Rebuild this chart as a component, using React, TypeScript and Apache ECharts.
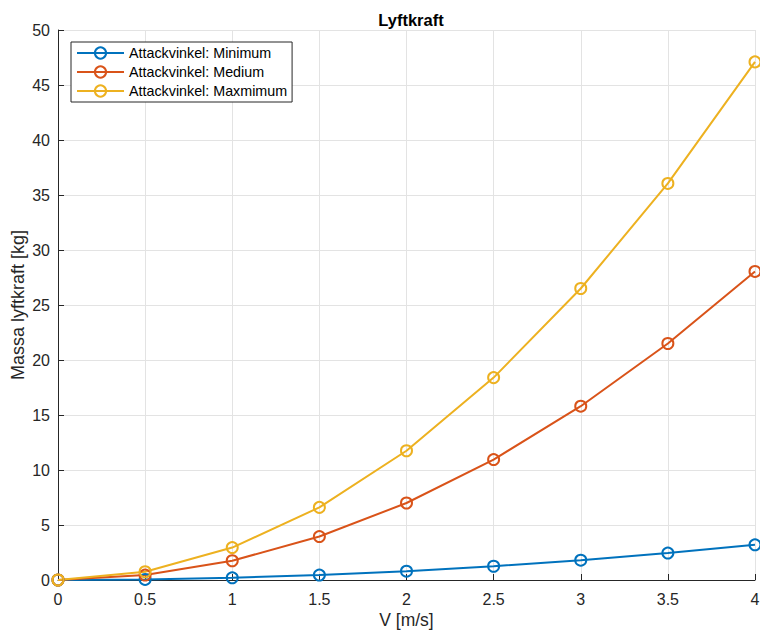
import React, { useEffect, useRef } from "react";
import * as echarts from "echarts";

const xValues = [0, 0.5, 1, 1.5, 2, 2.5, 3, 3.5, 4];
const minimum = [0, 0.05, 0.2, 0.45, 0.8, 1.25, 1.8, 2.45, 3.2];
const medium = [0, 0.45, 1.75, 3.95, 7.0, 10.95, 15.8, 21.5, 28.05];
const maximum = [0, 0.75, 2.95, 6.6, 11.75, 18.4, 26.5, 36.05, 47.1];
const seriesNames = ["Attackvinkel: Minimum", "Attackvinkel: Medium", "Attackvinkel: Maxmimum"];
const colors = ["#0072BD", "#D95319", "#EDB120"];

const FONT = "'Liberation Sans', Arial, Helvetica, sans-serif";

export default function App() {
  const ref = useRef<HTMLDivElement>(null);
  useEffect(() => {
    if (!ref.current) return;
    const chart = echarts.init(ref.current, null, { renderer: "svg" });
    const datasets = [minimum, medium, maximum];
    chart.setOption({
      animation: false,
      backgroundColor: "#ffffff",
      title: {
        text: "Lyftkraft",
        left: 406,
        top: 6,
        textAlign: "center",
        textStyle: { fontFamily: FONT, fontSize: 16.5, fontWeight: "bold", color: "#000" },
      },
      legend: {
        left: 71,
        top: 42,
        orient: "vertical",
        itemGap: 5,
        itemWidth: 47,
        itemHeight: 14,
        padding: [4, 5, 4, 5],
        borderColor: "#262626",
        borderWidth: 1,
        borderRadius: 0,
        backgroundColor: "#fff",
        textStyle: { fontFamily: FONT, fontSize: 14.3, color: "#000" },
        data: seriesNames,
      },
      grid: { left: 58, right: 5, top: 30, bottom: 51, containLabel: false, outerBoundsMode: "none" },
      xAxis: {
        type: "value",
        min: 0,
        max: 4,
        interval: 0.5,
        name: "V [m/s]",
        nameLocation: "middle",
        nameGap: 31,
        nameMoveOverlap: false,
        nameTextStyle: { fontFamily: FONT, fontSize: 17.5, color: "#262626" },
        axisLine: { show: true, lineStyle: { color: "#262626", width: 1 } },
        axisTick: { show: true, inside: true, length: 6, lineStyle: { color: "#262626" } },
        axisLabel: { fontFamily: FONT, fontSize: 16, color: "#262626", margin: 11 },
        splitLine: { show: true, lineStyle: { color: "#e3e3e3", width: 1 } },
      },
      yAxis: {
        type: "value",
        min: 0,
        max: 50,
        interval: 5,
        name: "Massa lyftkraft [kg]",
        nameLocation: "middle",
        nameGap: 31,
        nameMoveOverlap: false,
        nameTextStyle: { fontFamily: FONT, fontSize: 18, color: "#262626" },
        axisLine: { show: true, lineStyle: { color: "#262626", width: 1 } },
        axisTick: { show: true, inside: true, length: 6, lineStyle: { color: "#262626" } },
        axisLabel: { fontFamily: FONT, fontSize: 16, color: "#262626", margin: 8 },
        splitLine: { show: true, lineStyle: { color: "#e3e3e3", width: 1 } },
      },
      series: datasets.map((d, i) => ({
        name: seriesNames[i],
        type: "line",
        data: xValues.map((x, j) => [x, d[j]]),
        symbol: "circle",
        symbolSize: 11,
        color: colors[i],
        lineStyle: { color: colors[i], width: 2 },
        itemStyle: { color: "rgba(255,255,255,0)", borderColor: colors[i], borderWidth: 2 },
        clip: false,
      })),
    });
    return () => chart.dispose();
  }, []);
  return <div ref={ref} style={{ width: 760, height: 631, position: "absolute", left: 0, top: 0 }} />;
}
